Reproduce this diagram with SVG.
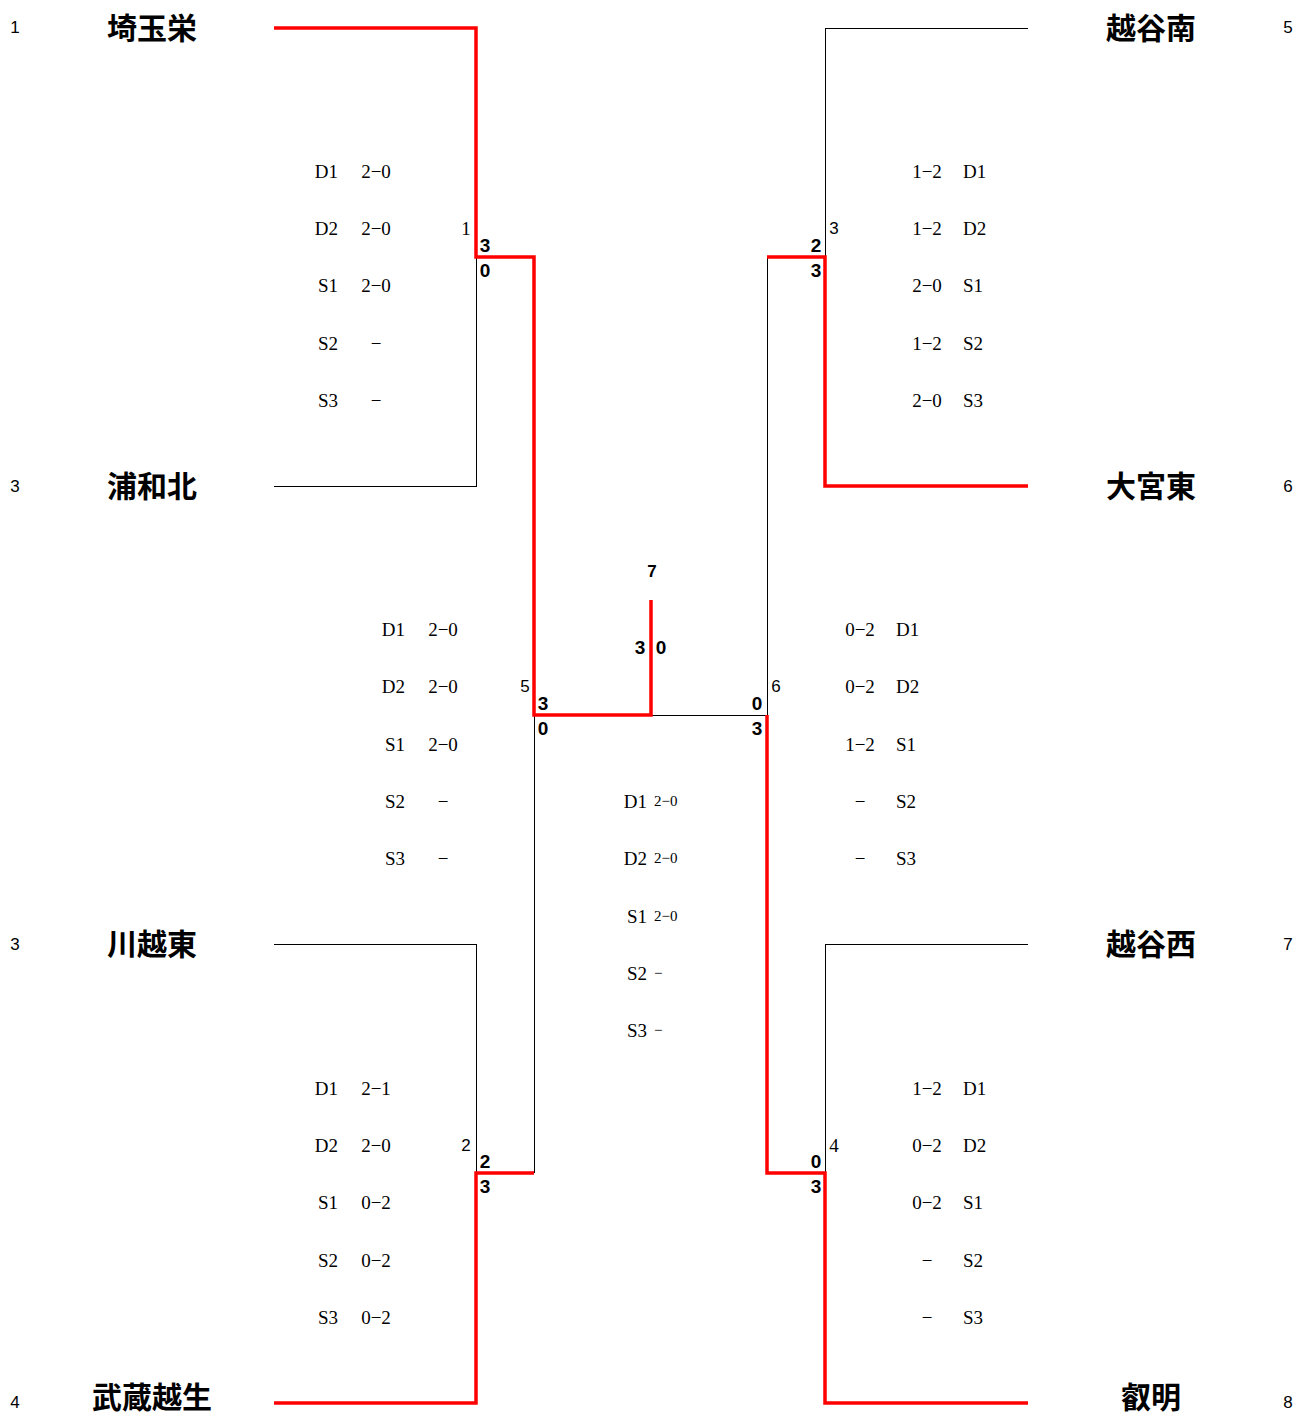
<svg xmlns="http://www.w3.org/2000/svg" width="1298" height="1417" viewBox="0 0 1298 1417">
<style>
text{dominant-baseline:central}
.team{font-family:"Noto Sans CJK JP","Noto Sans",sans-serif;font-weight:bold;font-size:30px;text-anchor:middle;fill:#000}
.seed{font-family:"Liberation Sans",Arial,sans-serif;font-size:17px;text-anchor:middle;fill:#000}
.det{font-family:"Liberation Serif","DejaVu Serif",serif;font-size:19px;fill:#000}
.mid{text-anchor:middle}
.end{text-anchor:end}
.sml{font-family:"Liberation Serif","DejaVu Serif",serif;font-size:15px;fill:#000}
.mn{font-family:"Liberation Sans",Arial,sans-serif;font-size:17px;text-anchor:middle;fill:#000}
.mns{font-family:"Liberation Serif",serif;font-size:19px;text-anchor:middle;fill:#000}
.sc{font-family:"Liberation Sans",Arial,sans-serif;font-weight:bold;font-size:19px;text-anchor:middle;fill:#000}
.blk{fill:none;stroke:#000;stroke-width:1;shape-rendering:crispEdges}
.red{fill:none;stroke:#f00;stroke-width:3.5}
</style>
<rect width="1298" height="1417" fill="#fff"/>
<g id="connectors">
<polyline class="blk" points="274,486 476,486 476,257"/>
<polyline class="blk" points="274,944 476,944 476,1173"/>
<polyline class="blk" points="534,1173 534,715"/>
<polyline class="blk" points="1028,28 825,28 825,257"/>
<polyline class="blk" points="1028,944 825,944 825,1173"/>
<polyline class="blk" points="767,257 767,715 651,715"/>
<polyline class="red" points="274,28 476,28 476,257 534,257 534,715 651,715 651,600"/>
<polyline class="red" points="274,1403 476,1403 476,1173 534,1173"/>
<polyline class="red" points="1028,486 825,486 825,257 767,257"/>
<polyline class="red" points="1028,1403 825,1403 825,1173 767,1173 767,715"/>
</g>
<g id="team-saitamasakae"><text class="seed" x="15" y="27">1</text><text class="team" x="152" y="26">埼玉栄</text></g>
<g id="team-urawakita"><text class="seed" x="15" y="486">3</text><text class="team" x="152" y="484">浦和北</text></g>
<g id="team-kawagoehigashi"><text class="seed" x="15" y="944">3</text><text class="team" x="152" y="942">川越東</text></g>
<g id="team-musashiogose"><text class="seed" x="15" y="1402">4</text><text class="team" x="152" y="1395">武蔵越生</text></g>
<g id="team-koshigayaminami"><text class="seed" x="1288" y="27">5</text><text class="team" x="1151" y="26">越谷南</text></g>
<g id="team-omiyahigashi"><text class="seed" x="1288" y="486">6</text><text class="team" x="1151" y="484">大宮東</text></g>
<g id="team-koshigayanishi"><text class="seed" x="1288" y="944">7</text><text class="team" x="1151" y="942">越谷西</text></g>
<g id="team-eimei"><text class="seed" x="1288" y="1402">8</text><text class="team" x="1151" y="1395">叡明</text></g>
<g id="match-1">
<text class="mns" x="466" y="228">1</text>
<text class="sc" x="485" y="245">3</text><text class="sc" x="485" y="270">0</text>
<text class="det end" x="338" y="171">D1</text><text class="det mid" x="376" y="171">2−0</text>
<text class="det end" x="338" y="228">D2</text><text class="det mid" x="376" y="228">2−0</text>
<text class="det end" x="338" y="285">S1</text><text class="det mid" x="376" y="285">2−0</text>
<text class="det end" x="338" y="343">S2</text><text class="det mid" x="376" y="343">−</text>
<text class="det end" x="338" y="400">S3</text><text class="det mid" x="376" y="400">−</text>
</g>
<g id="match-2">
<text class="mn" x="466" y="1145">2</text>
<text class="sc" x="485" y="1161">2</text><text class="sc" x="485" y="1186">3</text>
<text class="det end" x="338" y="1088">D1</text><text class="det mid" x="376" y="1088">2−1</text>
<text class="det end" x="338" y="1145">D2</text><text class="det mid" x="376" y="1145">2−0</text>
<text class="det end" x="338" y="1202">S1</text><text class="det mid" x="376" y="1202">0−2</text>
<text class="det end" x="338" y="1260">S2</text><text class="det mid" x="376" y="1260">0−2</text>
<text class="det end" x="338" y="1317">S3</text><text class="det mid" x="376" y="1317">0−2</text>
</g>
<g id="match-3">
<text class="mn" x="834" y="228">3</text>
<text class="sc" x="816" y="245">2</text><text class="sc" x="816" y="270">3</text>
<text class="det mid" x="927" y="171">1−2</text><text class="det" x="963" y="171">D1</text>
<text class="det mid" x="927" y="228">1−2</text><text class="det" x="963" y="228">D2</text>
<text class="det mid" x="927" y="285">2−0</text><text class="det" x="963" y="285">S1</text>
<text class="det mid" x="927" y="343">1−2</text><text class="det" x="963" y="343">S2</text>
<text class="det mid" x="927" y="400">2−0</text><text class="det" x="963" y="400">S3</text>
</g>
<g id="match-4">
<text class="mns" x="834" y="1145">4</text>
<text class="sc" x="816" y="1161">0</text><text class="sc" x="816" y="1186">3</text>
<text class="det mid" x="927" y="1088">1−2</text><text class="det" x="963" y="1088">D1</text>
<text class="det mid" x="927" y="1145">0−2</text><text class="det" x="963" y="1145">D2</text>
<text class="det mid" x="927" y="1202">0−2</text><text class="det" x="963" y="1202">S1</text>
<text class="det mid" x="927" y="1260">−</text><text class="det" x="963" y="1260">S2</text>
<text class="det mid" x="927" y="1317">−</text><text class="det" x="963" y="1317">S3</text>
</g>
<g id="match-5">
<text class="mn" x="525" y="686">5</text>
<text class="sc" x="543" y="703">3</text><text class="sc" x="543" y="728">0</text>
<text class="det end" x="405" y="629">D1</text><text class="det mid" x="443" y="629">2−0</text>
<text class="det end" x="405" y="686">D2</text><text class="det mid" x="443" y="686">2−0</text>
<text class="det end" x="405" y="744">S1</text><text class="det mid" x="443" y="744">2−0</text>
<text class="det end" x="405" y="801">S2</text><text class="det mid" x="443" y="801">−</text>
<text class="det end" x="405" y="858">S3</text><text class="det mid" x="443" y="858">−</text>
</g>
<g id="match-6">
<text class="mn" x="776" y="686">6</text>
<text class="sc" x="757" y="703">0</text><text class="sc" x="757" y="728">3</text>
<text class="det mid" x="860" y="629">0−2</text><text class="det" x="896" y="629">D1</text>
<text class="det mid" x="860" y="686">0−2</text><text class="det" x="896" y="686">D2</text>
<text class="det mid" x="860" y="744">1−2</text><text class="det" x="896" y="744">S1</text>
<text class="det mid" x="860" y="801">−</text><text class="det" x="896" y="801">S2</text>
<text class="det mid" x="860" y="858">−</text><text class="det" x="896" y="858">S3</text>
</g>
<g id="match-7">
<text class="mn" x="652" y="571" font-weight="bold">7</text>
<text class="sc" x="640" y="647">3</text><text class="sc" x="661" y="647">0</text>
<text class="det end" x="647" y="801">D1</text><text class="sml" x="654" y="801">2−0</text>
<text class="det end" x="647" y="858">D2</text><text class="sml" x="654" y="858">2−0</text>
<text class="det end" x="647" y="916">S1</text><text class="sml" x="654" y="916">2−0</text>
<text class="det end" x="647" y="973">S2</text><text class="sml" x="654" y="973">−</text>
<text class="det end" x="647" y="1030">S3</text><text class="sml" x="654" y="1030">−</text>
</g>
</svg>
